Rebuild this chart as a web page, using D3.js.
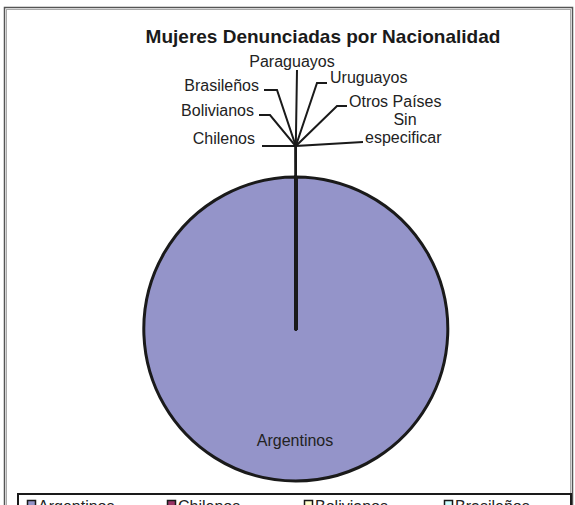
<!DOCTYPE html>
<html><head><meta charset="utf-8">
<script src="https://cdn.jsdelivr.net/npm/d3@7"></script>
<style>body{margin:0;background:#fff}svg{display:block}</style>
</head><body>
<svg id="c" width="575" height="505"></svg>
<script>
// Data
const categories = ["Argentinos","Chilenos","Bolivianos","Brasileños","Paraguayos","Uruguayos","Otros Países","Sin especificar"];
const values = [20000, 2, 1, 1, 1, 1, 1, 1];
const colors = ["#9494c9","#993366","#ffffcc","#ccffff","#660066","#ff8080","#0066cc","#ccccff"];
const title = "Mujeres Denunciadas por Nacionalidad";

// Layout (label anchors for leader lines)
const labelLayout = {
  "Chilenos":       {tx:255, ty:144, anchor:"end",    end:[262,146]},
  "Bolivianos":     {tx:254, ty:116, anchor:"end",    bend:[270,115], end:[259,115]},
  "Brasileños":     {tx:259, ty:91,  anchor:"end",    bend:[277,90],  end:[264,90]},
  "Paraguayos":     {tx:292, ty:67,  anchor:"middle", end:[297,70]},
  "Uruguayos":      {tx:330, ty:83,  anchor:"start",  bend:[317,83],  end:[327,83]},
  "Otros Países":   {tx:349, ty:107, anchor:"start",  bend:[337,106], end:[347,106]},
  "Sin especificar":{lines:[{t:"Sin",x:405,y:125,a:"middle"},{t:"especificar",x:365,y:143,a:"start"}], end:[363,142]}
};

const svg = d3.select("#c");
const font = "Arial, 'Liberation Sans', sans-serif";

// outer frame
svg.append("rect").attr("x",4.5).attr("y",7.5).attr("width",568).attr("height",520)
  .attr("fill","none").attr("stroke","#555").attr("stroke-width",1.5);
svg.append("rect").attr("x",6.5).attr("y",9.5).attr("width",564).attr("height",520)
  .attr("fill","none").attr("stroke","#aaa").attr("stroke-width",1);

// title
svg.append("text").attr("x",323).attr("y",43).attr("text-anchor","middle")
  .attr("font-family",font).attr("font-weight","bold").attr("font-size",19)
  .attr("fill","#1a1a1a").text(title);

const cx = 296, cy = 329, R = 152;
const g = svg.append("g").attr("transform",`translate(${cx},${cy})`);
const pie = d3.pie().sort(null).value(d=>d.v).startAngle(0).endAngle(2*Math.PI);
const data = categories.map((c,i)=>({c, v:values[i], col:colors[i]}));
const arcs = pie(data);
const arc = d3.arc().innerRadius(0).outerRadius(R);

g.selectAll("path.s").data(arcs).join("path").attr("class","s")
  .attr("d",arc).attr("fill",d=>d.data.col)
  .attr("stroke","#1a1a1a").attr("stroke-width",3).attr("stroke-linejoin","round");

// leader lines and labels
const pt = (a,r)=>[cx + r*Math.sin(a), cy - r*Math.cos(a)];
const lg = svg.append("g");
arcs.forEach((d,i)=>{
  if(i===0) return;
  const L = labelLayout[d.data.c];
  const a = (d.startAngle+d.endAngle)/2;
  const pts = [pt(a,R), pt(a,R+31)];
  if(L.bend) pts.push(L.bend);
  pts.push(L.end);
  lg.append("path").attr("d",d3.line()(pts)).attr("fill","none")
    .attr("stroke","#1a1a1a").attr("stroke-width",2);
  const lines = L.lines || [{t:d.data.c,x:L.tx,y:L.ty,a:L.anchor}];
  lines.forEach(l=>{
    lg.append("text").attr("x",l.x).attr("y",l.y).attr("text-anchor",l.a)
      .attr("font-family",font).attr("font-size",16).attr("fill","#222").text(l.t);
  });
});
// big slice label
svg.append("text").attr("x",295).attr("y",446).attr("text-anchor","middle")
  .attr("font-family",font).attr("font-size",16).attr("fill","#222").text(categories[0]);

// legend
svg.append("rect").attr("x",18).attr("y",494).attr("width",553).attr("height",60)
  .attr("fill","#fff").attr("stroke","#1a1a1a").attr("stroke-width",2);
const legX = [27,167,304,444];
categories.forEach((c,i)=>{
  const col = i%4, row = Math.floor(i/4);
  const x = legX[col], y = 500 + row*20;
  svg.append("rect").attr("x",x+0.5).attr("y",y+0.5).attr("width",8).attr("height",8)
    .attr("fill",colors[i]).attr("stroke","#1a1a1a").attr("stroke-width",1.5);
  svg.append("text").attr("x",x+11).attr("y",y+12).attr("font-family",font)
    .attr("font-size",16).attr("fill","#222").text(c);
});
</script>
</body></html>
